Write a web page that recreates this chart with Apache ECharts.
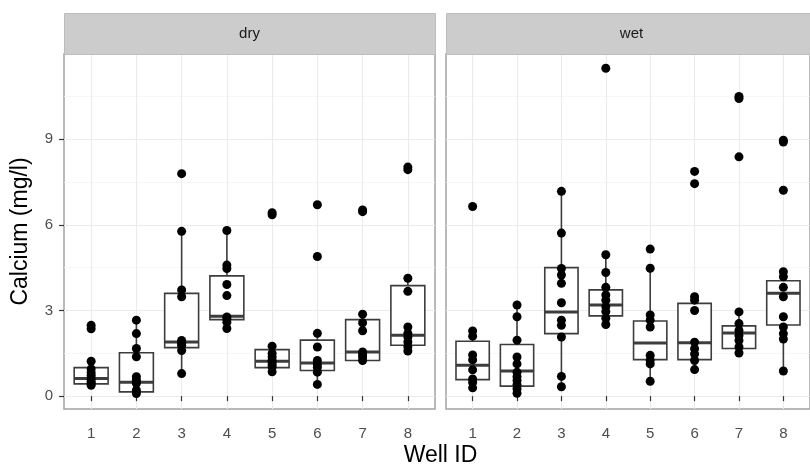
<!DOCTYPE html>
<html>
<head>
<meta charset="utf-8">
<script src="https://cdn.jsdelivr.net/npm/echarts@6/dist/echarts.min.js"></script>
<style>
  html, body { margin: 0; padding: 0; background: #fff; }
  #chart { width: 810px; height: 466px; }
</style>
</head>
<body>
<div id="chart"></div>
<script>
// ---- Data ----
const wells = [1, 2, 3, 4, 5, 6, 7, 8];
const panels = ['dry', 'wet'];
const yTicks = [0, 3, 6, 9];
const yMinorTicks = [1.5, 4.5, 7.5, 10.5];

// box statistics (lower whisker, Q1, median, Q3, upper whisker) per well
const dryLow  = [0.38, 0.09, 0.79, 2.37, 0.85, 0.41, 1.22, 1.58];
const dryQ1   = [0.43, 0.15, 1.70, 2.68, 1.00, 0.90, 1.25, 1.78];
const dryMed  = [0.62, 0.49, 1.90, 2.80, 1.22, 1.16, 1.55, 2.13];
const dryQ3   = [1.00, 1.52, 3.60, 4.21, 1.63, 1.96, 2.68, 3.87];
const dryHigh = [1.22, 2.66, 5.77, 5.80, 1.75, 2.20, 2.87, 4.13];

const wetLow  = [0.29, 0.10, 0.33, 2.51, 0.52, 0.93, 1.51, 0.88];
const wetQ1   = [0.58, 0.35, 2.19, 2.81, 1.28, 1.28, 1.67, 2.49];
const wetMed  = [1.08, 0.88, 2.95, 3.19, 1.86, 1.87, 2.21, 3.60];
const wetQ3   = [1.92, 1.81, 4.50, 3.72, 2.63, 3.25, 2.46, 4.04];
const wetHigh = [2.28, 3.19, 7.17, 4.95, 4.48, 3.48, 2.95, 4.36];

// individual observations per well
const dryPoints = [
  [2.48, 2.36, 1.22, 0.95, 0.82, 0.72, 0.62, 0.52, 0.45, 0.38],
  [2.66, 2.19, 1.67, 1.38, 0.68, 0.56, 0.45, 0.21, 0.09],
  [7.79, 5.77, 3.72, 3.48, 1.95, 1.85, 1.78, 1.60, 0.79],
  [5.80, 4.59, 4.47, 3.91, 3.52, 2.77, 2.70, 2.59, 2.37],
  [6.42, 6.35, 1.75, 1.50, 1.37, 1.25, 1.20, 1.10, 1.02, 0.85],
  [6.70, 4.89, 2.20, 1.72, 1.25, 1.10, 1.00, 0.84, 0.41],
  [6.52, 6.46, 2.87, 2.57, 2.29, 1.55, 1.45, 1.37, 1.25],
  [8.02, 7.93, 4.13, 3.67, 2.42, 2.20, 2.07, 1.90, 1.73, 1.58]
];
const wetPoints = [
  [6.64, 2.28, 2.10, 1.44, 1.27, 0.92, 0.60, 0.48, 0.29],
  [3.19, 2.78, 1.96, 1.37, 1.13, 0.84, 0.68, 0.55, 0.40, 0.26, 0.10],
  [7.17, 5.71, 4.47, 4.24, 3.95, 3.27, 2.66, 2.48, 2.07, 0.69, 0.33],
  [11.48, 4.95, 4.33, 3.81, 3.54, 3.36, 3.13, 2.96, 2.73, 2.51],
  [5.15, 4.48, 2.84, 2.66, 2.42, 1.43, 1.25, 1.13, 0.52],
  [7.87, 7.44, 3.48, 3.36, 3.00, 1.89, 1.66, 1.48, 1.25, 0.93],
  [10.49, 10.42, 8.38, 2.95, 2.54, 2.30, 2.12, 1.95, 1.72, 1.51],
  [8.96, 8.90, 7.21, 4.36, 4.18, 3.81, 3.48, 2.78, 2.42, 2.19, 2.00, 0.88]
];

// ---- Build series data ----
function boxData(low, q1, med, q3, high) {
  return wells.map((w, i) => [w, low[i], q1[i], med[i], q3[i], high[i]]);
}
function pointData(pts) {
  const out = [];
  pts.forEach((arr, i) => arr.forEach(v => out.push([wells[i], v])));
  return out;
}
const boxes = [
  boxData(dryLow, dryQ1, dryMed, dryQ3, dryHigh),
  boxData(wetLow, wetQ1, wetMed, wetQ3, wetHigh)
];
const points = [pointData(dryPoints), pointData(wetPoints)];

// ---- Styles / layout ----
const FONT = '"Liberation Sans", Arial, Helvetica, sans-serif';
const PANEL_TOP = 54, PANEL_H = 355, PANEL_W = 371;
const PANEL_LEFT = [64, 446];
const STRIP_TOP = 13;
const Y_MIN = -0.45, Y_MAX = 11.98;
const X_MIN = 0.4, X_MAX = 8.6;
const BOX_STROKE = '#3d3d3d';

function renderBox(params, api) {
  const x = api.value(0);
  const pLow = api.coord([x, api.value(1)]);
  const pQ1 = api.coord([x, api.value(2)]);
  const pMed = api.coord([x, api.value(3)]);
  const pQ3 = api.coord([x, api.value(4)]);
  const pHigh = api.coord([x, api.value(5)]);
  const half = api.size([0.75, 0])[0] / 2;
  const st = { stroke: BOX_STROKE, lineWidth: 1.6, fill: null };
  return {
    type: 'group',
    children: [
      { type: 'line', shape: { x1: pLow[0], y1: pLow[1], x2: pQ1[0], y2: pQ1[1] }, style: st },
      { type: 'line', shape: { x1: pQ3[0], y1: pQ3[1], x2: pHigh[0], y2: pHigh[1] }, style: st },
      { type: 'rect', shape: { x: pQ3[0] - half, y: pQ3[1], width: half * 2, height: pQ1[1] - pQ3[1] },
        style: { stroke: BOX_STROKE, lineWidth: 1.6, fill: '#ffffff' } },
      { type: 'line', shape: { x1: pMed[0] - half, y1: pMed[1], x2: pMed[0] + half, y2: pMed[1] },
        style: { stroke: BOX_STROKE, lineWidth: 3 } }
    ]
  };
}

const grids = PANEL_LEFT.map(l => ({
  left: l, top: PANEL_TOP, width: PANEL_W, height: PANEL_H,
  show: true, borderColor: '#a3a3a3', borderWidth: 1.5, backgroundColor: '#ffffff',
  containLabel: false
}));

const xAxes = panels.map((p, i) => ({
  type: 'value', gridIndex: i, min: X_MIN, max: X_MAX,
  axisLine: { show: false },
  axisTick: { show: true, customValues: wells, length: 5, lineStyle: { color: '#333333', width: 1.2 } },
  axisLabel: { show: true, customValues: wells, margin: 17, fontSize: 15, color: '#4d4d4d', fontFamily: FONT },
  splitLine: { show: true, lineStyle: { color: '#ebebeb', width: 1.1 } }
}));

const yAxes = [];
panels.forEach((p, i) => {
  yAxes.push({
    type: 'value', gridIndex: i, min: Y_MIN, max: Y_MAX, position: 'left',
    axisLine: { show: false },
    axisTick: { show: i === 0, customValues: yTicks, length: 5, lineStyle: { color: '#333333', width: 1.2 } },
    axisLabel: { show: i === 0, customValues: yTicks, margin: 11, fontSize: 15, color: '#4d4d4d', fontFamily: FONT },
    splitLine: { show: true, lineStyle: { color: '#ebebeb', width: 1.1 } },
    name: i === 0 ? 'Calcium (mg/l)' : '',
    nameLocation: 'middle', nameGap: 32,
    nameTextStyle: { fontSize: 23, color: '#000000', fontFamily: FONT }
  });
  yAxes.push({
    type: 'value', gridIndex: i, min: Y_MIN, max: Y_MAX, position: 'left',
    axisLine: { show: false },
    axisTick: { show: false, customValues: yMinorTicks },
    axisLabel: { show: false, customValues: yMinorTicks },
    splitLine: { show: true, lineStyle: { color: '#f5f5f5', width: 0.8 } }
  });
});

const series = [];
panels.forEach((p, i) => {
  series.push({
    type: 'custom', name: p + ' box', xAxisIndex: i, yAxisIndex: i * 2,
    renderItem: renderBox, data: boxes[i], z: 2, clip: false, silent: true
  });
  series.push({
    type: 'scatter', name: p + ' points', xAxisIndex: i, yAxisIndex: i * 2,
    data: points[i], symbol: 'circle', symbolSize: 9,
    itemStyle: { color: '#000000', opacity: 1 }, z: 3, silent: true
  });
});

const graphics = [];
panels.forEach((p, i) => {
  graphics.push({
    type: 'rect', left: PANEL_LEFT[i], top: STRIP_TOP,
    shape: { width: PANEL_W, height: PANEL_TOP - STRIP_TOP },
    style: { fill: '#cccccc', stroke: '#bdbdbd', lineWidth: 1 }, z: 10
  });
  graphics.push({
    type: 'text', x: PANEL_LEFT[i] + PANEL_W / 2, y: (STRIP_TOP + PANEL_TOP) / 2,
    style: { text: p, fontSize: 15, fill: '#1a1a1a', fontFamily: FONT, align: 'center', verticalAlign: 'middle' }, z: 11
  });
});
graphics.push({
  type: 'text', x: (PANEL_LEFT[0] + PANEL_LEFT[1] + PANEL_W) / 2, y: 456,
  style: { text: 'Well ID', fontSize: 23, fill: '#000000', fontFamily: FONT, align: 'center', verticalAlign: 'middle' }
});

const chart = echarts.init(document.getElementById('chart'), null, { renderer: 'canvas' });
chart.setOption({
  animation: false,
  backgroundColor: '#ffffff',
  grid: grids,
  xAxis: xAxes,
  yAxis: yAxes,
  series: series,
  graphic: graphics
});
</script>
</body>
</html>
